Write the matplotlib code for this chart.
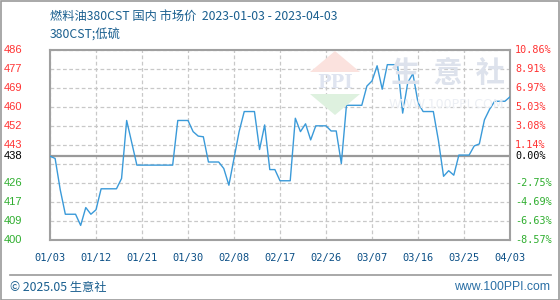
import matplotlib
matplotlib.use("Agg")
import matplotlib.pyplot as plt
import pandas as pd
import numpy as np
from matplotlib.patches import Polygon, Rectangle
from matplotlib.lines import Line2D

plt.rcParams['font.family'] = ['Noto Sans CJK SC', 'DejaVu Sans']

# ---- data ----
start_date = "2023-01-03"
end_date = "2023-04-03"
prices = [438, 437, 423, 412, 412, 412, 407, 415, 412, 414,
          423.4, 423.4, 423.4, 423.4, 428, 454, 444, 434, 434, 434,
          434, 434, 434, 434, 434, 454, 454, 454, 449, 447,
          446.7, 435.4, 435.4, 435.4, 432.5, 425, 437, 449, 458, 458,
          458, 441, 452, 432, 432, 427, 427, 427, 455, 449,
          452.5, 445.3, 451.6, 451.6, 451.6, 449.3, 449.3, 434.7, 460.8, 460.8,
          460.8, 460.8, 469.4, 471.7, 478.5, 468, 479, 479, 479, 457.3,
          471, 475, 462, 458, 458, 458, 445, 429, 431.5, 429.5,
          438.5, 438.5, 438.5, 442.6, 443.5, 454.3, 459, 462.6, 462.6, 462.6,
          464.6]
base_value = 438
pct_top = 10.86
pct_bottom = -8.57
left_labels = ['400', '409', '417', '426', '', '443', '452', '460', '469', '477', '486']
right_labels = ['-8.57%', '-6.63%', '-4.69%', '-2.75%', '', '1.14%', '3.08%', '5.03%', '6.97%', '8.91%', '10.86%']
base_left_label = '438'
base_right_label = '0.00%'
x_tick_labels = ['01/03', '01/12', '01/21', '01/30', '02/08', '02/17', '02/26',
                 '03/07', '03/16', '03/25', '04/03']
title_text = "燃料油380CST 国内 市场价  2023-01-03 - 2023-04-03"
subtitle_text = "380CST;低硫"

dates = pd.date_range(start_date, periods=len(prices), freq="D")

W, H = 560, 300
fig = plt.figure(figsize=(W / 100, H / 100), dpi=100)

def fx(px):
    return px / W

def fy(py):
    return 1 - py / H

ax = fig.add_axes([fx(50), fy(240), fx(460), fy(50) - fy(240)])
ymin = base_value * (1 + pct_bottom / 100)
ymax = base_value * (1 + pct_top / 100)
ax.set_ylim(ymin, ymax)
ax.set_xlim(dates[0], dates[-1])

grid_vals = np.linspace(ymin, ymax, len(left_labels))
tick_dates = pd.date_range(start_date, end_date, freq="9D")
ax.set_xticks(tick_dates)
ax.set_xticklabels(x_tick_labels)
ax.set_yticks(grid_vals)
ax.set_yticklabels([])
ax.tick_params(axis='both', length=0)
ax.tick_params(axis='x', pad=9, labelsize=7.5, labelcolor='#0b4f86')
for lbl in ax.get_xticklabels():
    lbl.set_family('DejaVu Sans Mono')
ax.grid(True, color='#c8c8c8', linestyle=(0, (3, 2)), linewidth=0.9)
for s in ax.spines.values():
    s.set_color('#a0a0a0')
    s.set_linewidth(1.5)

ax.axhline(base_value, color='#999999', linewidth=1.6, zorder=2)

# watermark logo & text (decoration)
wm = fig.add_artist
wm(Polygon([[fx(335), fy(51)], [fx(310), fy(72)], [fx(360), fy(72)]],
           closed=True, transform=fig.transFigure, facecolor='#fbe2de', edgecolor='none', zorder=0.5))
wm(Polygon([[fx(310), fy(94)], [fx(360), fy(94)], [fx(335), fy(115)]],
           closed=True, transform=fig.transFigure, facecolor='#def1df', edgecolor='none', zorder=0.5))
fig.text(fx(335), fy(83), "PPI", ha='center', va='center', fontsize=13, fontweight='bold',
         color='#dfe4f0', family='DejaVu Serif', zorder=0.6)
fig.text(fx(448), fy(73), "生  意  社", ha='center', va='center', fontsize=21, fontweight='bold',
         color='#dde2ec', zorder=0.6)
fig.text(fx(446), fy(105), "WWW.100PPI.COM", ha='center', va='center', fontsize=9,
         color='#eceff4', family='DejaVu Sans', zorder=0.6)
ax.patch.set_alpha(0)

ax.plot(dates, prices, color='#3a9ad9', linewidth=1.0, zorder=3)

# left/right value labels
for v, ltxt, rtxt in zip(grid_vals, left_labels, right_labels):
    if not ltxt:
        continue
    col = '#ff3333' if v > base_value else '#2fae2f'
    ax.text(-46 / 460, (v - ymin) / (ymax - ymin), ltxt, transform=ax.transAxes,
            ha='left', va='center', fontsize=8, color=col, family='Liberation Sans')
    ax.text(1 + 5 / 460, (v - ymin) / (ymax - ymin), rtxt, transform=ax.transAxes,
            ha='left', va='center', fontsize=7.3, color=col, family='DejaVu Sans Mono')
bpos = (base_value - ymin) / (ymax - ymin)
ax.text(-46 / 460, bpos, base_left_label, transform=ax.transAxes,
        ha='left', va='center', fontsize=8, color='#000000', family='Liberation Sans')
ax.text(1 + 5 / 460, bpos, base_right_label, transform=ax.transAxes,
        ha='left', va='center', fontsize=7.3, color='#000000', family='DejaVu Sans Mono')

# titles
fig.text(fx(50), fy(16), title_text, ha='left', va='center', fontsize=8.8, color='#1a5f8f')
fig.text(fx(50), fy(35), subtitle_text, ha='left', va='center', fontsize=8.8, color='#1a5f8f')

# footer
fig.add_artist(Line2D([fx(10), fx(551)], [fy(275), fy(275)], transform=fig.transFigure,
                      color='#999999', linewidth=1.2))
fig.text(fx(10), fy(287), "© 2025.05 生意社", ha='left', va='center', fontsize=8.8, color='#1a5f8f')
fig.text(fx(550), fy(287), "www.100PPI.com", ha='right', va='center', fontsize=8.8, color='#2a6fa5',
         family='Liberation Sans')

# outer frame
fig.add_artist(Rectangle((0.5 / W, 0.5 / H), 1 - 1.5 / W, 1 - 1.5 / H, transform=fig.transFigure,
                         fill=False, edgecolor='#9a9a9a', linewidth=1.2))

fig.savefig("out.png", dpi=100)
